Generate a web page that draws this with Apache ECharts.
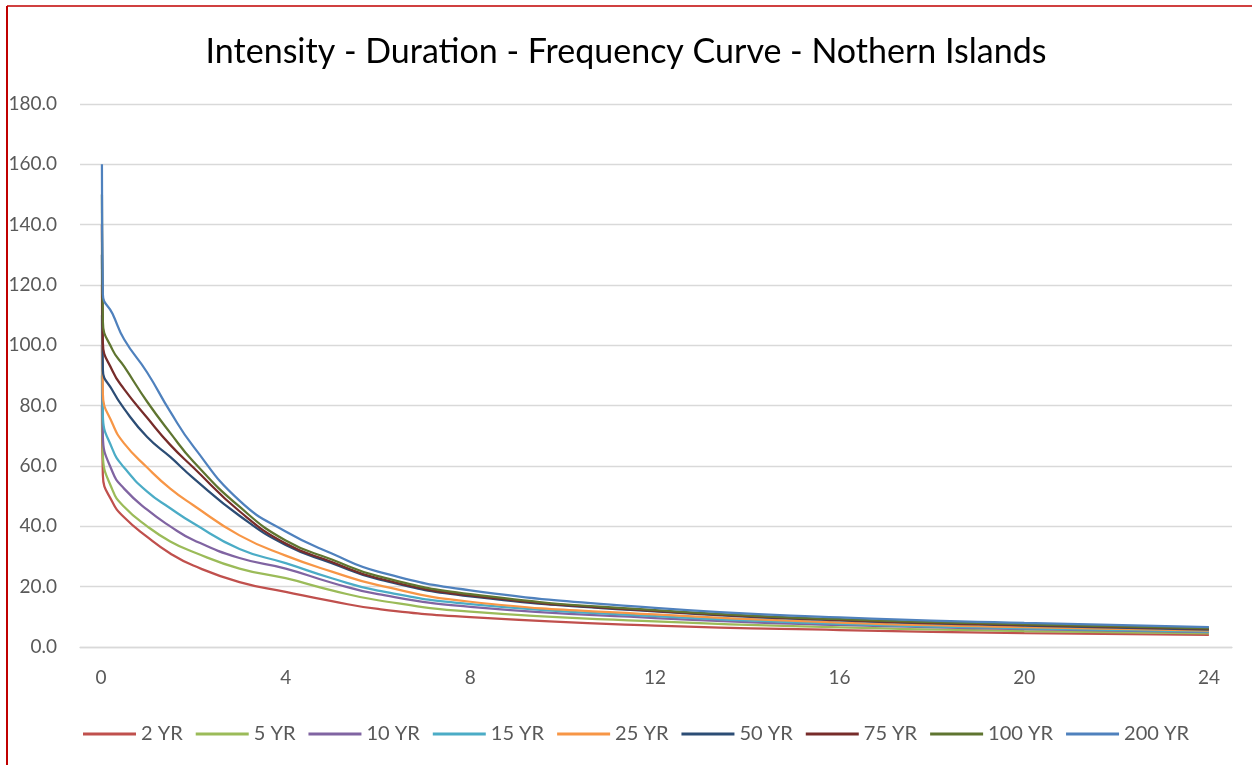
<!DOCTYPE html>
<html>
<head>
<meta charset="utf-8">
<script src="https://cdn.jsdelivr.net/npm/echarts@6/dist/echarts.min.js"></script>
<style>
html,body{margin:0;padding:0;background:#fff;}
#chart{width:1252px;height:765px;}
</style>
</head>
<body>
<div id="chart"></div>
<script>
// Durations in hours; first two points form the near-vertical spike
const durations = [0.02, 0.04, 0.25, 0.5, 1, 1.5, 2, 3, 4, 5, 6, 8, 12, 16, 20, 24];
const xTicks = [0, 4, 8, 12, 16, 20, 24];
const seriesNames = ['2 YR', '5 YR', '10 YR', '15 YR', '25 YR', '50 YR', '75 YR', '100 YR', '200 YR'];
const yr2   = [80, 57, 48, 43, 36.5, 31, 27, 21.5, 18.3, 15.2, 12.6, 9.9, 7.1, 5.6, 4.6, 4.0];
const yr5   = [90, 64, 52, 46.5, 40, 35, 31.5, 26, 22.8, 18.8, 15.5, 11.7, 8.5, 6.5, 5.3, 4.5];
const yr10  = [100, 70, 58, 52.5, 45.5, 40, 35.5, 29.5, 26, 21.3, 17.5, 13.3, 9.6, 7.3, 5.9, 4.9];
const yr15  = [110, 77, 65.5, 59.5, 51.5, 46, 41, 32.5, 27.8, 22.8, 18.7, 14.2, 10.2, 7.7, 6.2, 5.1];
const yr25  = [120, 84, 74, 67.5, 59.5, 52.5, 47, 37, 30.3, 25, 20.5, 15, 10.8, 8.1, 6.6, 5.4];
const yr50  = [130, 92, 85, 79, 69.6, 63, 56, 43.5, 33.8, 27.8, 22.5, 16.8, 11.8, 8.8, 7.1, 5.8];
const yr75  = [140, 101, 91.5, 85.5, 76, 67, 59.5, 45, 34.3, 28.2, 22.8, 17.1, 12, 9.0, 7.3, 6.0];
const yr100 = [150, 108, 98.5, 93, 81.3, 71, 61.5, 46.5, 35.3, 29, 23.5, 17.5, 12.2, 9.2, 7.5, 6.2];
const yr200 = [160, 117, 110.5, 102, 91, 78, 66.5, 48.5, 38.3, 31, 25, 18.8, 13, 9.8, 8.0, 6.6];
const allValues = [yr2, yr5, yr10, yr15, yr25, yr50, yr75, yr100, yr200];
const colors = ['#C0504D', '#9BBB59', '#8064A2', '#4BACC6', '#F79646', '#2C4D75', '#772C2A', '#5F7530', '#4F81BD'];

const chart = echarts.init(document.getElementById('chart'), null, {renderer: 'canvas'});
const fontFam = 'Lato, "Open Sans", sans-serif';
const series = seriesNames.map((name, i) => ({
  name: name,
  type: 'line',
  data: durations.map((d, j) => [d, allValues[i][j]]),
  smooth: 0.5,
  symbol: 'none',
  showSymbol: false,
  lineStyle: {width: 2.25, color: colors[i]},
  itemStyle: {color: colors[i]},
  emphasis: {disabled: true}
}));

chart.setOption({
  animation: false,
  backgroundColor: '#ffffff',
  title: {
    text: 'Intensity - Duration - Frequency Curve - Nothern Islands',
    left: 'center',
    top: 30,
    textStyle: {fontFamily: fontFam, fontSize: 34, fontWeight: 'normal', color: '#000000'}
  },
  legend: {
    data: seriesNames,
    top: 719,
    left: 78,
    icon: 'rect',
    itemWidth: 53,
    itemHeight: 3,
    itemGap: 13,
    textStyle: {fontFamily: fontFam, fontSize: 20, color: '#595959'}
  },
  grid: {left: 80, right: 20, top: 104, bottom: 118, containLabel: false},
  xAxis: {
    type: 'value',
    min: -0.455,
    max: 24.5,
    axisLine: {show: true, lineStyle: {color: '#D9D9D9', width: 1.3}},
    axisTick: {show: false},
    splitLine: {show: false},
    axisLabel: {
      customValues: xTicks,
      fontFamily: fontFam, fontSize: 19, color: '#595959', margin: 21
    }
  },
  yAxis: {
    type: 'value',
    min: 0, max: 180, interval: 20,
    axisLine: {show: false},
    axisTick: {show: false},
    splitLine: {lineStyle: {color: '#D9D9D9', width: 1.3}},
    axisLabel: {
      formatter: v => v.toFixed(1),
      fontFamily: fontFam, fontSize: 19, color: '#595959', margin: 23
    }
  },
  graphic: [
    {type: 'line', shape: {x1: 7, y1: 6, x2: 1252, y2: 6}, style: {stroke: '#C00000', lineWidth: 1.5}, z: 100},
    {type: 'line', shape: {x1: 7, y1: 6, x2: 7, y2: 765}, style: {stroke: '#C00000', lineWidth: 2}, z: 100}
  ],
  series: series
});
</script>
</body>
</html>
